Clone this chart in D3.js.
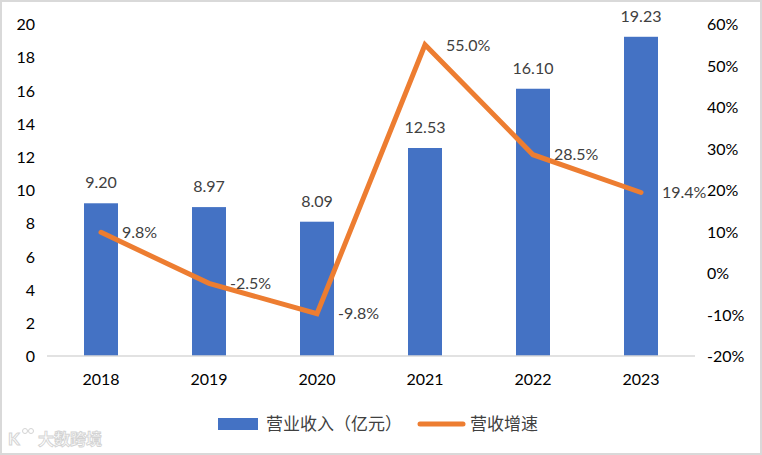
<!DOCTYPE html>
<html><head><meta charset="utf-8">
<script src="https://cdn.jsdelivr.net/npm/d3@7"></script>
<style>
html,body{margin:0;padding:0;background:#fff;}
svg{display:block;}
</style></head>
<body>
<svg id="chart" width="762" height="455"></svg>
<script>
const categories = ["2018","2019","2020","2021","2022","2023"];
const revenue = [9.20, 8.97, 8.09, 12.53, 16.10, 19.23];
const growth = [9.8, -2.5, -9.8, 55.0, 28.5, 19.4];
const leftTicks = [0,2,4,6,8,10,12,14,16,18,20];
const rightTicks = [-20,-10,0,10,20,30,40,50,60];
const seriesNames = ["营业收入（亿元）","营收增速"];

(function(){
const svg = d3.select("#chart");
const W = 762, H = 455;
const font = "Lato, 'Noto Sans CJK SC', sans-serif";
const cjk = "'Noto Sans CJK SC', sans-serif";
const blue = "#4472C4", orange = "#ED7D31";

// frame
svg.append("rect").attr("x",1).attr("y",1).attr("width",W-2).attr("height",H-2)
  .attr("fill","#fff").attr("stroke","#d9d9d9").attr("stroke-width",2);

const pL = 47, pR = 695, pT = 24, pB = 356;
const x = d3.scaleBand().domain(categories).range([pL,pR]).paddingInner(0).paddingOuter(0);
const y = d3.scaleLinear().domain([0,20]).range([pB,pT]);
const y2 = d3.scaleLinear().domain([-20,60]).range([pB,pT]);
const barW = 34;

// left axis
const la = svg.append("g").attr("transform",`translate(${pL-12},0)`)
  .call(d3.axisLeft(y).tickValues(leftTicks).tickSize(0).tickPadding(0).tickFormat(d3.format("d")));
la.select(".domain").remove();
la.selectAll("text").attr("font-family",font).attr("font-size",16).attr("fill","#000").attr("dy","0.36em");

// right axis
const ra = svg.append("g").attr("transform",`translate(${pR+12},0)`)
  .call(d3.axisRight(y2).tickValues(rightTicks).tickSize(0).tickPadding(0).tickFormat(d=>d+"%"));
ra.select(".domain").remove();
ra.selectAll("text").attr("font-family",font).attr("font-size",16).attr("fill","#000").attr("dy","0.36em");

// bars
svg.append("g").selectAll("rect").data(categories).join("rect")
  .attr("x",d=>x(d)+x.bandwidth()/2-barW/2)
  .attr("y",(d,i)=>y(revenue[i]))
  .attr("width",barW)
  .attr("height",(d,i)=>y(0)-y(revenue[i]))
  .attr("fill",blue);

// x axis
svg.append("line").attr("x1",pL).attr("x2",pR).attr("y1",y(0)).attr("y2",y(0))
  .attr("stroke","#d9d9d9").attr("stroke-width",1.5);
const xa = svg.append("g").attr("transform",`translate(0,${y(0)+18})`)
  .call(d3.axisBottom(x).tickSize(0).tickPadding(0));
xa.select(".domain").remove();
xa.selectAll("text").attr("font-family",font).attr("font-size",16).attr("fill","#000").attr("dy","0.71em");

// bar labels
svg.append("g").selectAll("text").data(categories).join("text")
  .attr("x",d=>x(d)+x.bandwidth()/2)
  .attr("y",(d,i)=>y(revenue[i])-15)
  .attr("text-anchor","middle")
  .attr("font-family",font).attr("font-size",16).attr("fill","#404040")
  .text((d,i)=>revenue[i].toFixed(2));

// line
const line = d3.line().x((d,i)=>x(categories[i])+x.bandwidth()/2).y(d=>y2(d));
svg.append("path").datum(growth).attr("d",line)
  .attr("fill","none").attr("stroke",orange).attr("stroke-width",5)
  .attr("stroke-linejoin","miter").attr("stroke-miterlimit",4).attr("stroke-linecap","round");

// line labels
svg.append("g").selectAll("text").data(growth).join("text")
  .attr("x",(d,i)=>x(categories[i])+x.bandwidth()/2+21)
  .attr("y",d=>y2(d))
  .attr("dy","0.36em")
  .attr("font-family",font).attr("font-size",16).attr("fill","#404040")
  .text(d=>d.toFixed(1)+"%");

// legend
const lg = svg.append("g");
lg.append("rect").attr("x",218).attr("y",418).attr("width",40).attr("height",12).attr("fill",blue);
lg.append("text").attr("x",266).attr("y",424).attr("dy","0.36em")
  .attr("font-family",cjk).attr("font-size",17).attr("fill","#404040").text(seriesNames[0]);
lg.append("line").attr("x1",420).attr("x2",463).attr("y1",424).attr("y2",424)
  .attr("stroke",orange).attr("stroke-width",5).attr("stroke-linecap","round");
lg.append("text").attr("x",470).attr("y",424).attr("dy","0.36em")
  .attr("font-family",cjk).attr("font-size",17).attr("fill","#404040").text(seriesNames[1]);

// watermark
const wm = svg.append("g").attr("opacity",0.9);
wm.append("text").attr("x",8).attr("y",445).attr("font-family",font).attr("font-size",17)
  .attr("font-weight","bold").attr("fill","none").attr("stroke","#d0d0d0").attr("stroke-width",1).text("K");
wm.append("circle").attr("cx",25).attr("cy",431).attr("r",2.5).attr("fill","none").attr("stroke","#d0d0d0");
wm.append("circle").attr("cx",31).attr("cy",431).attr("r",2.5).attr("fill","none").attr("stroke","#d0d0d0");
wm.append("text").attr("x",38).attr("y",445).attr("font-family",cjk).attr("font-size",16)
  .attr("font-weight","bold").attr("fill","#fff").attr("stroke","#cfcfcf").attr("stroke-width",0.9).text("大数跨境");
})();
</script>
</body></html>
